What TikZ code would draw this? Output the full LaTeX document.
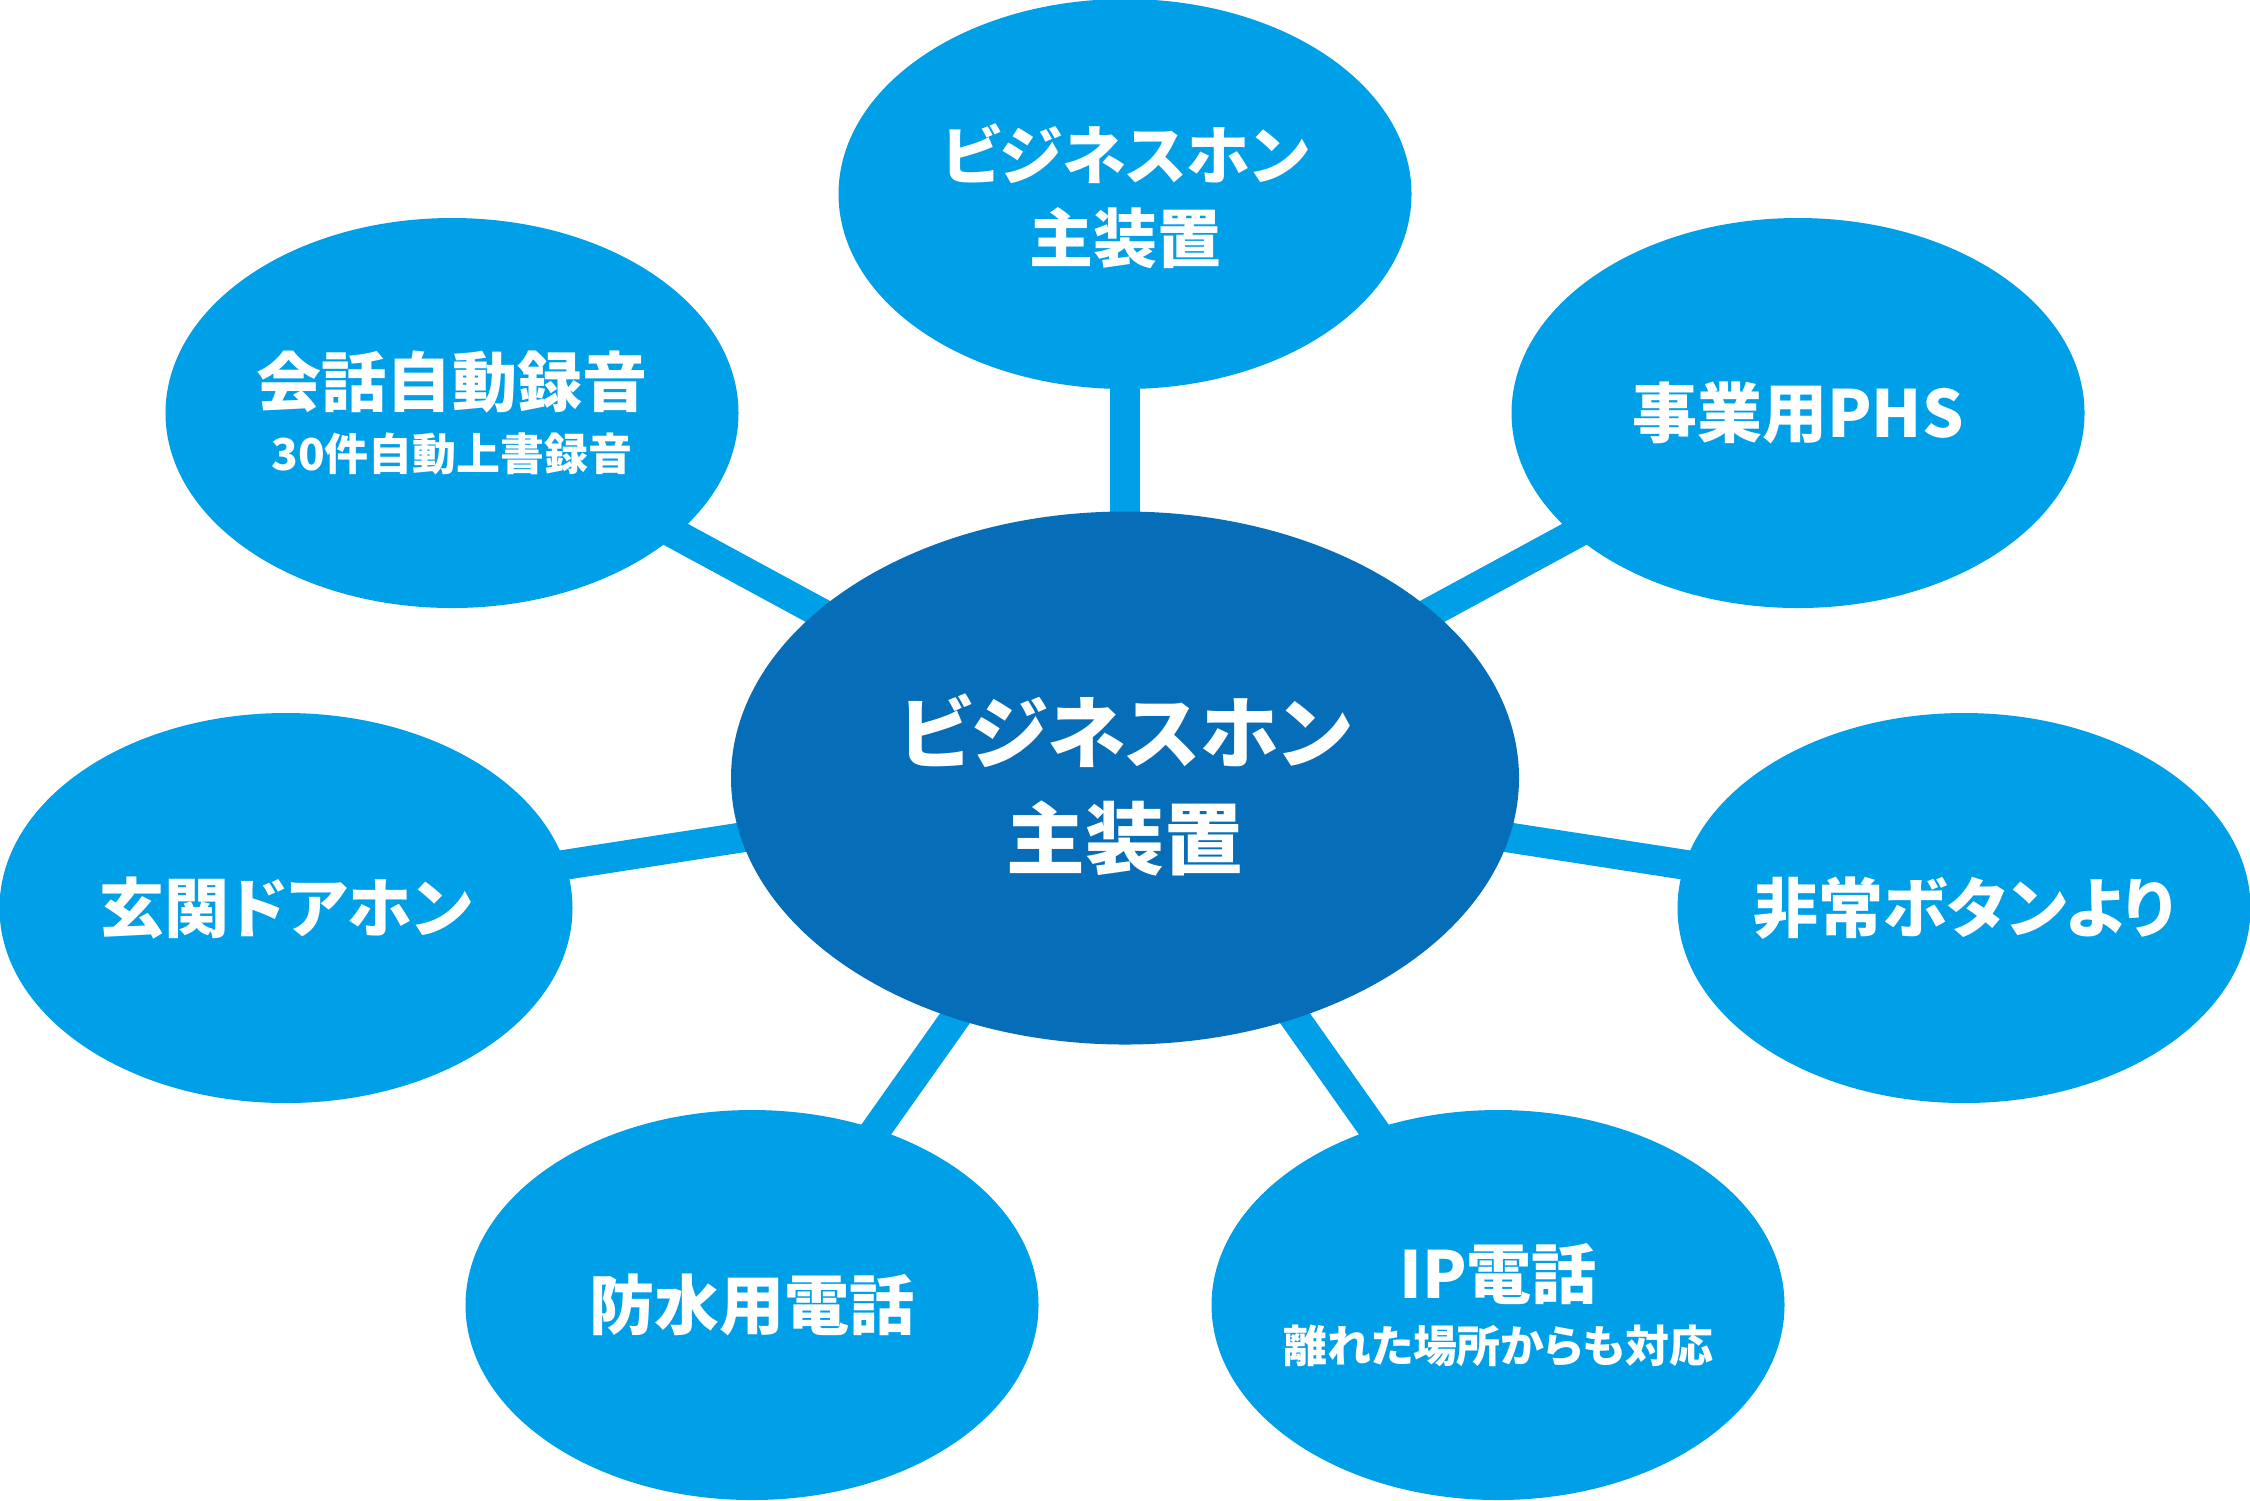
\documentclass[tikz,border=0pt]{standalone}
\usepackage{fontspec}
\setmainfont{Noto Sans CJK JP}[RawFeature=+palt]
\usetikzlibrary{shapes.geometric,backgrounds}
\definecolor{skyblue}{RGB}{0,160,233}
\definecolor{hubblue}{RGB}{6,110,184}
\tikzset{
  bubble/.style={ellipse, fill=skyblue, minimum width=5.73cm, minimum height=3.9cm, inner sep=0pt},
  hub/.style={ellipse, fill=hubblue, minimum width=7.88cm, minimum height=5.33cm, inner sep=0pt},
  title/.style={text=white, align=center, font=\bfseries\fontsize{18.5}{24}\selectfont},
  link/.style={draw=skyblue, line width=0.3cm},
}
\newcommand{\subtext}[1]{{\fontsize{12.5}{15}\selectfont #1}}

\begin{document}
\begin{tikzpicture}
  \useasboundingbox (0,0) rectangle (22.5,-15);

  % center and outer ellipses
  \node[hub] (hub) at (11.25,-7.78) {};
  \node[bubble] (main) at (11.25,-1.94) {};
  \node[bubble] (rec) at (4.52,-4.13) {};
  \node[bubble] (phs) at (17.98,-4.13) {};
  \node[bubble] (door) at (2.86,-9.08) {};
  \node[bubble] (alarm) at (19.64,-9.08) {};
  \node[bubble] (water) at (7.52,-13.05) {};
  \node[bubble] (ip) at (14.98,-13.05) {};

  % texts
  \node[title, font=\bfseries\fontsize{22.4}{30}\selectfont] (hub-t) at ([yshift=-0.07cm]hub) {ビジネスホン\\主装置};
  \node[title, font=\bfseries\fontsize{18.2}{23.5}\selectfont] (main-t) at ([yshift=-0.02cm]main) {ビジネスホン\\主装置};
  \node[title] (rec-t) at (rec) {会話自動録音\\[-6pt]\subtext{30件自動上書録音}};
  \node[title] (phs-t) at (phs) {事業用PHS};
  \node[title] (door-t) at (door) {玄関ドアホン};
  \node[title] (alarm-t) at (alarm) {非常ボタンより};
  \node[title] (water-t) at (water) {防水用電話};
  \node[title] (ip-t) at (ip) {IP電話\\[-6pt]\subtext{離れた場所からも対応}};

  % connectors
  \begin{scope}[on background layer]
    \draw[link] (hub.center) -- (main.center);
    \draw[link] (hub.center) -- (rec.center);
    \draw[link] (hub.center) -- (phs.center);
    \draw[link] (hub.center) -- (door.center);
    \draw[link] (hub.center) -- (alarm.center);
    \draw[link] (hub.center) -- (water.center);
    \draw[link] (hub.center) -- (ip.center);
  \end{scope}
\end{tikzpicture}
\end{document}
